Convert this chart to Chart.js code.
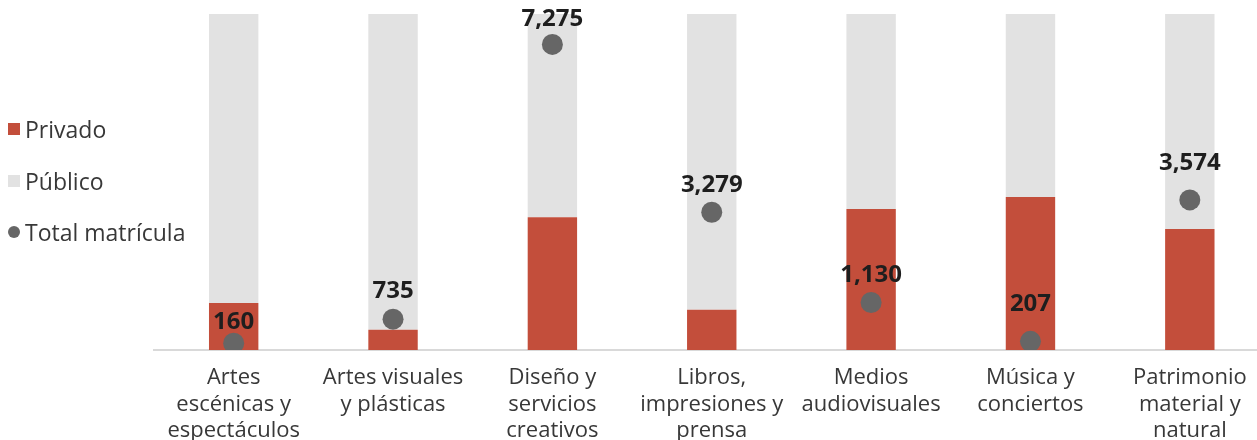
<!DOCTYPE html>
<html lang="es">
<head>
<meta charset="UTF-8" />
<title>Matrícula por sector</title>
<script src="https://cdn.jsdelivr.net/npm/chart.js"></script>
<style>
  html, body { margin: 0; padding: 0; background: #fff; overflow: hidden; }
  #wrap { position: relative; width: 1280px; height: 440px; }
  #grafico { display: block; }
  #leyenda { position: absolute; left: 8px; top: 0; font-family: "Open Sans", sans-serif; font-size: 23px; color: #383838; }
  #leyenda div { position: absolute; white-space: nowrap; display: flex; align-items: center; }
  #leyenda span.m { display: inline-block; width: 12px; height: 12px; margin-right: 5px; }
</style>
</head>
<body>
<div id="wrap">
  <canvas id="grafico" width="1280" height="440"></canvas>
  <div id="leyenda"></div>
</div>

<script>
    const categorias = [
        ['Artes', 'escénicas y', 'espectáculos'],
        ['Artes visuales', 'y plásticas'],
        ['Diseño y', 'servicios', 'creativos'],
        ['Libros,', 'impresiones y', 'prensa'],
        ['Medios', 'audiovisuales'],
        ['Música y', 'conciertos'],
        ['Patrimonio', 'material y', 'natural']
    ];
    // porcentaje privado / público
    const privado = [14, 6, 39.5, 12, 42, 45.5, 36];
    const publico = privado.map(v => 100 - v);
    const totalMatricula = [160, 735, 7275, 3279, 1130, 207, 3574];

    // separación de cada etiqueta sobre su punto (px)
    const separacion = [21, 28, 25, 27, 27, 37, 37];

    const etiquetas = {
        id: 'etiquetas',
        afterDatasetsDraw(chart) {
            const meta = chart.getDatasetMeta(0);
            const ctx = chart.ctx;
            ctx.save();
            ctx.font = 'bold 24px "Open Sans"';
            ctx.fillStyle = '#1e1e1e';
            ctx.textAlign = 'center';
            ctx.textBaseline = 'middle';
            meta.data.forEach((p, i) => {
                ctx.fillText(totalMatricula[i].toLocaleString('en-US'), p.x, p.y - separacion[i]);
            });
            ctx.restore();
        }
    };

    const chart = new Chart(document.getElementById('grafico'), {
        data: {
            labels: categorias,
            datasets: [{
                type: 'line',
                label: 'Total matrícula',
                data: totalMatricula,
                yAxisID: 'y2',
                showLine: false,
                pointRadius: 10.5,
                pointHoverRadius: 10.5,
                backgroundColor: '#666666',
                borderColor: '#666666',
                borderWidth: 0,
                order: 0
            }, {
                type: 'bar',
                label: 'Privado',
                data: privado,
                backgroundColor: '#c34e3b',
                barPercentage: 0.31,
                categoryPercentage: 1,
                order: 1
            }, {
                type: 'bar',
                label: 'Público',
                data: publico,
                backgroundColor: '#e2e2e2',
                barPercentage: 0.31,
                categoryPercentage: 1,
                order: 1
            }]
        },
        options: {
            responsive: false,
            animation: false,
            layout: { padding: { left: 154, top: 14, right: 0, bottom: 0 } },
            plugins: {
                legend: { display: false },
                tooltip: { enabled: false }
            },
            scales: {
                x: {
                    stacked: true,
                    grid: { display: false, drawTicks: false },
                    border: { display: true, color: '#d9d9d9', width: 2 },
                    ticks: {
                        maxRotation: 0,
                        autoSkip: false,
                        padding: 15,
                        color: '#383838',
                        font: { family: 'Open Sans', size: 22, lineHeight: 1.2 }
                    },
                    afterFit(scale) { scale.height = 90; }
                },
                y: {
                    stacked: true,
                    display: false,
                    min: 0,
                    max: 100
                },
                y2: {
                    display: false,
                    min: 0,
                    max: 8000
                }
            }
        },
        plugins: [etiquetas]
    });

    // leyenda a la izquierda
    const leyenda = document.getElementById('leyenda');
    const items = [chart.data.datasets[1], chart.data.datasets[2], chart.data.datasets[0]];
    const alturas = [129, 181, 232];
    items.forEach((ds, i) => {
        const d = document.createElement('div');
        d.style.top = (alturas[i] - 14) + 'px';
        d.style.height = '28px';
        const m = document.createElement('span');
        m.className = 'm';
        m.style.background = ds.backgroundColor;
        if (ds.type === 'line') m.style.borderRadius = '50%';
        d.appendChild(m);
        d.appendChild(document.createTextNode(ds.label));
        leyenda.appendChild(d);
    });
</script>
</body>
</html>
